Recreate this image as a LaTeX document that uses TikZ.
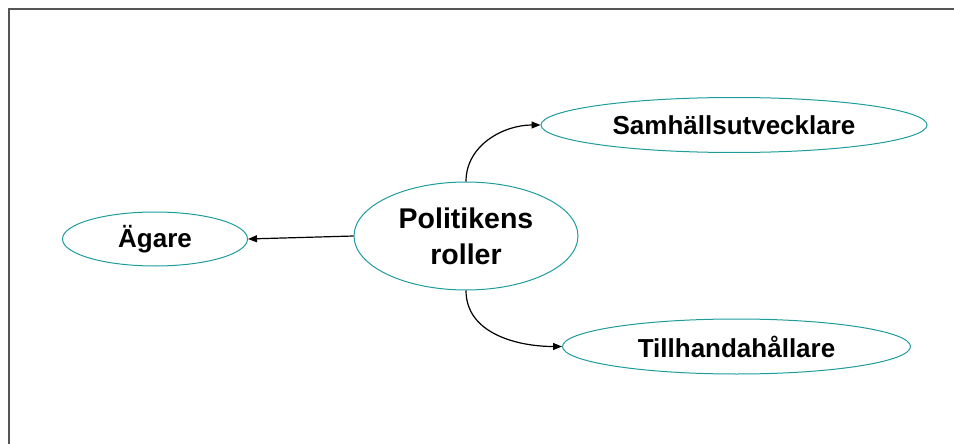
\documentclass[tikz,border=0pt]{standalone}
\usepackage{fontspec}
\setmainfont{Liberation Sans}
\usetikzlibrary{shapes.geometric,arrows.meta}
\definecolor{rim}{HTML}{1E9C9C}
\definecolor{framegray}{HTML}{555555}
\tikzset{
  role/.style={ellipse, draw=rim, line width=1pt, inner sep=0pt, align=center,
    font=\fontsize{26}{31}\selectfont\bfseries},
  link/.style={draw=black, line width=1.2pt, -{Triangle[length=9pt,width=7pt]}}
}
\begin{document}
\begin{tikzpicture}[x=1pt,y=-1pt]
  \useasboundingbox (0,0) rectangle (954,444);
  % frame edges
  \draw[framegray, line width=1.6pt] (9,444) -- (9,9) -- (954,9);

  % centre node and the three roles
  \node[role, minimum width=224pt, minimum height=108pt,
        font=\fontsize{28.5}{36}\selectfont\bfseries] (pol) at (466,236) {Politikens\\roller};
  \node[role, minimum width=185pt, minimum height=54pt] (aga) at (155,239) {Ägare};
  \node[role, minimum width=386pt, minimum height=55pt] (sam) at (734,125) {Samhällsutvecklare};
  \node[role, minimum width=348pt, minimum height=55pt] (til) at (736.5,346.5) {Tillhandahållare};

  % connectors
  \draw[link] (pol.west) -- (aga.east);
  \draw[link] (pol.north) to[out=90,in=180] (sam.west);
  \draw[link] (pol.south) to[out=-90,in=180] (til.west);
\end{tikzpicture}
\end{document}
